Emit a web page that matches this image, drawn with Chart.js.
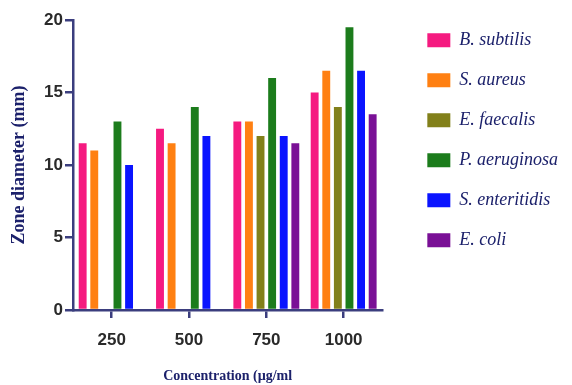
<!DOCTYPE html>
<html>
<head>
<meta charset="utf-8">
<script src="https://cdn.jsdelivr.net/npm/chart.js@4/dist/chart.umd.min.js"></script>
<style>
    body { margin: 0; background: #fff; }
    #wrap { width: 572px; height: 385px; }
</style>
</head>
<body>
<div id="wrap"><canvas id="zone-chart"></canvas></div>
<script>
const concentrations = ['250', '500', '750', '1000'];
const bSubtilis = [11.5, 12.5, 13, 15];
const sAureus = [11, 11.5, 13, 16.5];
const eFaecalis = [null, null, 12, 14];
const pAeruginosa = [13, 14, 16, 19.5];
const sEnteritidis = [10, 12, 12, 16.5];
const eColi = [null, null, 11.5, 13.5];

const axisColor = '#3b3e7e';
const navy = '#1c216b';
const tickFont = "'Liberation Sans', Arial, sans-serif";

const series = [
    { label: 'B. subtilis', data: bSubtilis, color: '#f51a80' },
    { label: 'S. aureus', data: sAureus, color: '#ff8012' },
    { label: 'E. faecalis', data: eFaecalis, color: '#82801a' },
    { label: 'P. aeruginosa', data: pAeruginosa, color: '#1c7c1c' },
    { label: 'S. enteritidis', data: sEnteritidis, color: '#0a14ff' },
    { label: 'E. coli', data: eColi, color: '#7a1096' }
];

new Chart(document.getElementById('zone-chart').getContext('2d'), {
    type: 'bar',
    data: {
        labels: concentrations,
        datasets: series.map(s => ({
            label: s.label,
            data: s.data,
            backgroundColor: s.color,
            borderWidth: 0,
            categoryPercentage: 0.9,
            barPercentage: 0.68
        }))
    },
    options: {
        responsive: true,
        maintainAspectRatio: false,
        animation: false,
        layout: { padding: { left: 0, right: 4, top: 0, bottom: 0 } },
        scales: {
            x: {
                grid: { display: true, drawOnChartArea: false, offset: false, tickLength: 8, color: axisColor, lineWidth: 2.5 },
                border: { display: true, color: axisColor, width: 2.5 },
                ticks: { color: '#2a2a2a', padding: 12, font: { family: tickFont, size: 17, weight: 'bold' } },
                title: {
                    display: true,
                    text: 'Concentration (µg/ml',
                    color: navy,
                    padding: { top: 4, bottom: 0 },
                    font: { family: "'Liberation Serif', serif", size: 14, weight: 'bold' }
                },
                afterFit: s => { s.height = 75; }
            },
            y: {
                min: 0,
                max: 20,
                ticks: { stepSize: 5, color: '#2a2a2a', padding: 2, font: { family: tickFont, size: 17, weight: 'bold' } },
                grid: { display: true, drawOnChartArea: false, tickLength: 8, color: axisColor, lineWidth: 2.5 },
                border: { display: true, color: axisColor, width: 2.5 },
                title: {
                    display: true,
                    text: 'Zone diameter (mm)',
                    color: navy,
                    padding: { top: 9, bottom: 4 },
                    font: { family: "'Liberation Serif', serif", size: 18, weight: 'bold' }
                },
                afterFit: s => { s.width = 73; s.paddingTop = 20; }
            },
            // empty axis, only keeps a gap between the plot and the legend
            spacer: {
                type: 'linear',
                position: 'right',
                grid: { display: false },
                border: { display: false },
                ticks: { display: false },
                afterFit: s => { s.width = 23; }
            }
        },
        plugins: {
            legend: {
                position: 'right',
                align: 'start',
                maxWidth: 220,
                title: { display: true, text: ' ', padding: { top: 0, bottom: 8 }, font: { size: 1 } },
                labels: {
                    boxWidth: 23,
                    boxHeight: 14,
                    padding: 22,
                    color: navy,
                    font: { family: "'Liberation Serif', serif", size: 18, style: 'italic' }
                }
            },
            tooltip: { enabled: false }
        }
    }
});
</script>
</body>
</html>
